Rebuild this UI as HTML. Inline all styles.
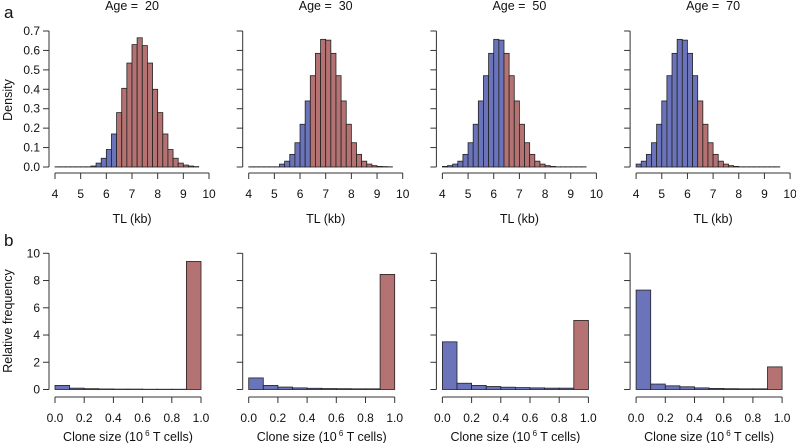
<!DOCTYPE html>
<html><head><meta charset="utf-8"><style>
body{margin:0;background:#fff}
svg{display:block;font-family:"Liberation Sans",Arial,sans-serif}
</style></head><body>
<svg id="c" width="796" height="443" viewBox="0 0 796 443"></svg>
<script>
const ages = [20, 30, 50, 70];
const tlBinStart = 4.0;
const tlBinWidth = 0.2;
const tlThreshold = 6.4;
const tlDensity20 = [0.001,0.001,0.001,0.001,0.001,0.001,0.001,0.005,0.02,0.045,0.09,0.17,0.28,0.405,0.535,0.63,0.665,0.625,0.535,0.40,0.28,0.17,0.09,0.045,0.02,0.01,0.005,0.002];
const tlDensity30 = [0.001,0.001,0.001,0.001,0.001,0.001,0.015,0.03,0.065,0.125,0.22,0.34,0.47,0.585,0.657,0.653,0.585,0.47,0.34,0.22,0.125,0.065,0.03,0.015,0.007,0.003,0.002,0.001];
const tlDensity50 = [0.003,0.007,0.015,0.03,0.065,0.125,0.22,0.34,0.47,0.585,0.657,0.653,0.585,0.47,0.34,0.22,0.125,0.065,0.03,0.015,0.007,0.003,0.001,0.001,0.001,0.001,0.001,0.001];
const tlDensity70 = [0.015,0.03,0.065,0.125,0.22,0.34,0.47,0.585,0.657,0.653,0.585,0.47,0.34,0.22,0.125,0.065,0.03,0.015,0.007,0.003,0.001,0.001,0.001,0.001,0.001,0.001,0.001,0.001];
const cloneFreq20 = [0.3,0.1,0.06,0.04,0.03,0.03,0.02,0.02,0.02,9.4];
const cloneFreq30 = [0.85,0.3,0.18,0.12,0.09,0.07,0.06,0.05,0.05,8.45];
const cloneFreq50 = [3.5,0.46,0.3,0.22,0.17,0.14,0.12,0.1,0.1,5.07];
const cloneFreq70 = [7.3,0.4,0.27,0.2,0.12,0.08,0.06,0.05,0.05,1.66];
const tlTicksX = [4,5,6,7,8,9,10];
const tlTicksY = [0,0.1,0.2,0.3,0.4,0.5,0.6,0.7];
const cloneTicksX = [0,0.2,0.4,0.6,0.8,1.0];
const cloneTicksY = [0,2,4,6,8,10];

const tlSets=[tlDensity20,tlDensity30,tlDensity50,tlDensity70];
const cloneSets=[cloneFreq20,cloneFreq30,cloneFreq50,cloneFreq70];
const BLUE="#6b74ba", RED="#b47272";
const svg=document.getElementById('c');
const NS="http://www.w3.org/2000/svg";
function mk(tag,attrs,parent,text){const e=document.createElementNS(NS,tag);for(const k in attrs)e.setAttribute(k,attrs[k]);if(text!==undefined)e.textContent=text;(parent||svg).appendChild(e);return e;}
function txt(x,y,s,size,parent,anchor,rot){const t=mk('text',{x:x,y:y,'font-size':size,'text-anchor':anchor||'middle',fill:'#111'},parent,s);if(rot)t.setAttribute('transform','rotate(-90 '+x+' '+y+')');return t;}

const panelStep=193.7;
for(let i=0;i<4;i++){
  const x0=55+i*panelStep;
  const g=mk('g',{});
  
  
  const xs=v=>x0+(v-4)*(154/6);
  const ys=v=>167-v*(136/0.7);
  const t=txt((xs(4)+xs(10))/2,10,'Age =  '+ages[i],12.5,g);
   
  t.setAttribute('xml:space','preserve'); t.style.whiteSpace='pre';
  tlSets[i].forEach((d,k)=>{
    const lo=tlBinStart+k*tlBinWidth, hi=lo+tlBinWidth;
    const r=mk('rect',{x:xs(lo),y:ys(d),width:xs(hi)-xs(lo),height:Math.max(0,ys(0)-ys(d)),fill:lo<tlThreshold-1e-9?BLUE:RED,stroke:'#222','stroke-width':0.8},g);
     
  });
  const ax=mk('g',{},g);  
  mk('line',{x1:xs(4),x2:xs(10),y1:173,y2:173,stroke:'#333'},ax);
  tlTicksX.forEach(v=>{mk('line',{x1:xs(v),x2:xs(v),y1:173,y2:179,stroke:'#333'},ax);txt(xs(v),198,String(v),12,ax);});
  const xl=txt((xs(4)+xs(10))/2,223,'TL (kb)',12.5,g);  
  const ay=mk('g',{},g);  
  const yx=x0-6;
  mk('line',{x1:yx,x2:yx,y1:ys(0),y2:ys(0.7),stroke:'#333'},ay);
  tlTicksY.forEach(v=>{mk('line',{x1:yx,x2:yx-6,y1:ys(v),y2:ys(v),stroke:'#333'},ay);if(i===0)txt(yx-9,ys(v)+4,v.toFixed(1),12,ay,'end');});
  const g2=mk('g',{});
  
  
  const bx=v=>x0+v*146;
  const by=v=>389.5-v*13.62;
  cloneSets[i].forEach((d,k)=>{
    const lo=k*0.1, hi=lo+0.1;
    const r=mk('rect',{x:bx(lo),y:by(d),width:bx(hi)-bx(lo),height:Math.max(0,by(0)-by(d)),fill:k===9?RED:BLUE,stroke:'#222','stroke-width':0.8},g2);
     
  });
  const bxa=mk('g',{},g2);  
  mk('line',{x1:bx(0),x2:bx(1),y1:397,y2:397,stroke:'#333'},bxa);
  cloneTicksX.forEach(v=>{mk('line',{x1:bx(v),x2:bx(v),y1:397,y2:403,stroke:'#333'},bxa);txt(bx(v),422,v.toFixed(1),12,bxa);});
  const xl2=mk('text',{x:bx(0.5),y:441,'font-size':12.5,'text-anchor':'middle',fill:'#111'},g2);
   
  xl2.innerHTML='Clone size (10<tspan dy="-5" font-size="8"> 6</tspan><tspan dy="5"> T cells)</tspan>';
  const bya=mk('g',{},g2);  
  mk('line',{x1:yx,x2:yx,y1:by(0),y2:by(10),stroke:'#333'},bya);
  cloneTicksY.forEach(v=>{mk('line',{x1:yx,x2:yx-6,y1:by(v),y2:by(v),stroke:'#333'},bya);if(i===0)txt(yx-9,by(v)+4,String(v),12,bya,'end');});
}
const la=txt(4,18,'a',17,null,'start');  
const lb=txt(4,246,'b',17,null,'start');  
const yt=txt(12,100,'Density',12.5,null,'middle',true);  
const yt2=txt(12,321,'Relative frequency',12.5,null,'middle',true);  
</script>
</body></html>
